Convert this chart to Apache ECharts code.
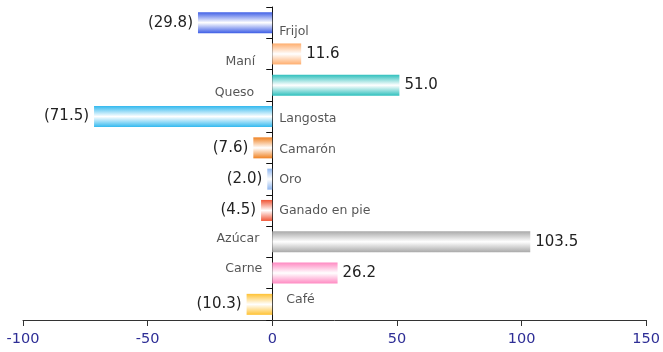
<!DOCTYPE html>
<html>
<head>
<meta charset="utf-8">
<script src="https://cdn.jsdelivr.net/npm/echarts@6/dist/echarts.min.js"></script>
<style>html,body{margin:0;padding:0;background:#fff}#c{width:663px;height:352px}</style>
</head>
<body>
<div id="c"></div>
<script>
const categories = ['Frijol','Maní','Queso','Langosta','Camarón','Oro','Ganado en pie','Azúcar','Carne','Café'];
const values = [-29.8, 11.6, 51.0, -71.5, -7.6, -2.0, -4.5, 103.5, 26.2, -10.3];
const barColors = ['#3f5fe6','#ffae6e','#2fc0bd','#33b9ef','#f08222','#8fb6ef','#f05536','#a9a9a9','#ff8ac2','#ffc233'];
const xMin = -100, xMax = 150, xInterval = 50;
// label layout tweaks (style only)
const catLabelDy = [9, 8, 7, 2.5, 2, 1, 0, -3, -4.6, -5];
const catLabelDx = [7, -17, -18, 7, 7, 7, 7, -13, -10, 14];

const chart = echarts.init(document.getElementById('c'), null, {renderer:'canvas'});
const font = 'DejaVu Sans, Verdana, sans-serif';

function grad(c){
  return new echarts.graphic.LinearGradient(0,0,0,1,[
    {offset:0,color:c},{offset:0.5,color:'#ffffff'},{offset:1,color:c}
  ]);
}
function fmt(v){ return v < 0 ? '(' + Math.abs(v).toFixed(1) + ')' : v.toFixed(1); }

const barData = values.map((v,i)=>({
  value: v,
  itemStyle: {color: grad(barColors[i])},
  label: {position: v < 0 ? 'left' : 'right'}
}));

const catData = categories.map((c,i)=>({
  value: [0, i],
  label: {
    position: values[i] < 0 ? 'right' : 'left',
    offset: [catLabelDx[i], catLabelDy[i]],
    formatter: c
  }
}));

chart.setOption({
  animation: false,
  grid: {left: 23, right: 16, top: 7, bottom: 32, containLabel: false},
  xAxis: {
    type: 'value', min: xMin, max: xMax, interval: xInterval,
    axisLine: {show: true, lineStyle: {color: '#333', width: 1}},
    axisTick: {show: true, length: 6, lineStyle: {color: '#333'}},
    axisLabel: {color: '#2e2e96', fontSize: 14.5, fontFamily: font, margin: 12},
    splitLine: {show: false}
  },
  yAxis: {
    type: 'category', data: categories, inverse: true,
    axisLine: {show: true, onZero: true, lineStyle: {color: '#111', width: 1}},
    axisTick: {show: true, length: 6, lineStyle: {color: '#111'}},
    axisLabel: {show: false},
    splitLine: {show: false}
  },
  series: [
    {
      type: 'bar', data: barData, barWidth: 21,
      label: {show: true, distance: 5, color: '#222', fontSize: 15, fontFamily: font,
        formatter: p => fmt(p.value)}
    },
    {
      type: 'scatter', data: catData, symbolSize: 0, z: 5,
      label: {show: true, distance: 0, color: '#2a2a2a', fontSize: 12.5, fontFamily: font}
    }
  ]
});
</script>
</body>
</html>
